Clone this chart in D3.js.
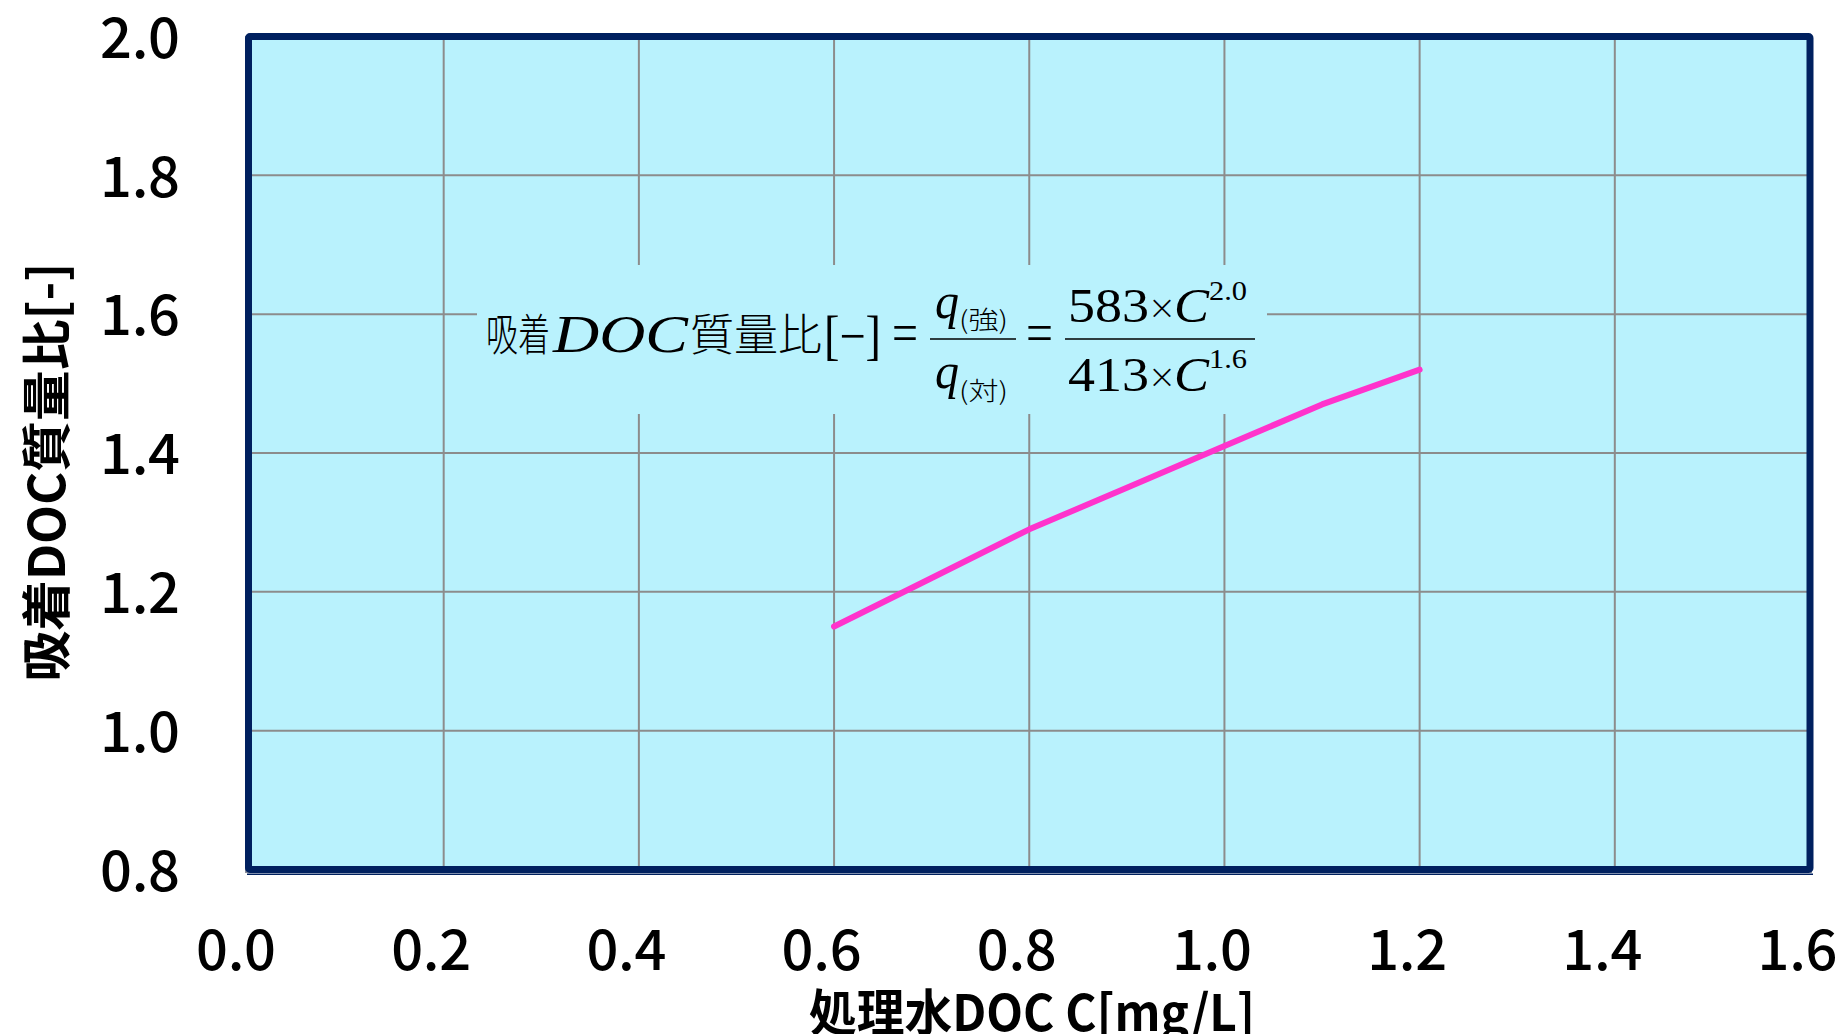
<!DOCTYPE html>
<html><head><meta charset="utf-8">
<script src="https://cdn.jsdelivr.net/npm/d3@7"></script>
<style>body{margin:0;background:#fff;}svg{display:block;}</style>
</head><body>
<svg id="chart" width="1845" height="1034"></svg>
<script>
// ---- data ----
const xValues = [0.6, 0.7, 0.8, 0.9, 1.0, 1.1, 1.2];
const yValues = [1.15, 1.22, 1.29, 1.35, 1.41, 1.47, 1.52];
const xTicks = [0.0, 0.2, 0.4, 0.6, 0.8, 1.0, 1.2, 1.4, 1.6];
const yTicks = [0.8, 1.0, 1.2, 1.4, 1.6, 1.8, 2.0];
const xTitle = "処理水DOC C[mg/L]";
const yTitle = "吸着DOC質量比[-]";

const svg = d3.select("#chart");
const L = 248.5, R = 1810, T = 36.5, B = 869.5;
const x = d3.scaleLinear().domain([0, 1.6]).range([L, R]);
const y = d3.scaleLinear().domain([0.8, 2.0]).range([B, T]);

const CJK = "'Noto Sans CJK JP','Noto Sans',sans-serif";
const SERIF = "'Liberation Serif','DejaVu Serif',serif";

// plot background
svg.append("rect").attr("x", L).attr("y", T).attr("width", R - L).attr("height", B - T)
  .attr("fill", "#B9F2FD");

// gridlines
const grid = svg.append("g");
grid.selectAll(".vg").data(xTicks.slice(1, -1)).enter().append("line")
  .attr("x1", d => x(d)).attr("x2", d => x(d)).attr("y1", T).attr("y2", B)
  .attr("stroke", "#8C8C8C").attr("stroke-width", 2);
grid.selectAll(".hg").data(yTicks.slice(1, -1)).enter().append("line")
  .attr("y1", d => y(d)).attr("y2", d => y(d)).attr("x1", L).attr("x2", R)
  .attr("stroke", "#8C8C8C").attr("stroke-width", 2);

// formula box (covers gridlines)
svg.append("rect").attr("x", 477).attr("y", 265).attr("width", 790).attr("height", 149)
  .attr("fill", "#B9F2FD");

// formula
const f = svg.append("g").attr("fill", "#000");
function t(txt, x0, x1, base, size, fam, opts) {
  const el = f.append("text").attr("x", x0).attr("y", base).attr("font-size", size)
    .attr("font-family", fam).text(txt)
    .attr("textLength", x1 - x0).attr("lengthAdjust", "spacingAndGlyphs");
  if (opts && opts.italic) el.attr("font-style", "italic");
  if (opts && opts.weight) el.attr("font-weight", opts.weight);
  return el;
}
function times(cx, cy) {
  f.append("text").attr("x", cx).attr("y", cy).attr("text-anchor", "middle")
    .attr("dominant-baseline", "central").attr("font-family", "'DejaVu Sans',sans-serif")
    .attr("font-size", 34).attr("font-weight", 300).text("×");
}
t("吸着", 486, 550, 351, 44, CJK, {weight: 300});
t("DOC", 553, 688, 352, 52, SERIF, {italic: true});
t("質量比", 690, 822, 351, 44, CJK, {weight: 300});
t("[−]", 824, 881, 354, 54, SERIF);
t("=", 892, 918, 352, 56, SERIF);
t("q", 935, 959, 318, 50, SERIF, {italic: true});
t("(強)", 959, 1008, 329, 25, CJK, {weight: 300});
f.append("line").attr("x1", 930).attr("x2", 1016).attr("y1", 339).attr("y2", 339)
  .attr("stroke", "#000").attr("stroke-width", 1.6);
t("q", 935, 959, 388, 50, SERIF, {italic: true});
t("(対)", 959, 1008, 400, 25, CJK, {weight: 300});
t("=", 1026, 1053, 352, 56, SERIF);
f.append("line").attr("x1", 1065).attr("x2", 1255).attr("y1", 339).attr("y2", 339)
  .attr("stroke", "#000").attr("stroke-width", 1.6);
t("583", 1068, 1149, 322, 48, SERIF);
times(1162, 307);
t("C", 1174, 1209, 322, 48, SERIF, {italic: true});
t("2.0", 1209, 1247, 300, 28, SERIF);
t("413", 1068, 1149, 391, 48, SERIF);
times(1162, 376);
t("C", 1174, 1209, 391, 48, SERIF, {italic: true});
t("1.6", 1209, 1247, 368, 28, SERIF);

// data line
const line = d3.line().x((d, i) => x(xValues[i])).y(d => y(d));
svg.append("path").datum(yValues).attr("d", line)
  .attr("fill", "none").attr("stroke", "#FF33CC").attr("stroke-width", 6)
  .attr("stroke-linecap", "round").attr("stroke-linejoin", "round");

// frame with shadow
svg.append("line").attr("x1", 245.8).attr("x2", 245.8).attr("y1", 36).attr("y2", 873)
  .attr("stroke", "#8A8F9C").attr("stroke-width", 1.6);
svg.append("line").attr("x1", 245).attr("x2", 1812).attr("y1", 872).attr("y2", 872)
  .attr("stroke", "#8A8F9C").attr("stroke-width", 2.2);
svg.append("line").attr("x1", 247).attr("x2", 1813).attr("y1", 874.2).attr("y2", 874.2)
  .attr("stroke", "#00205F").attr("stroke-width", 1.6);
svg.append("rect").attr("x", L).attr("y", T).attr("width", R - L).attr("height", B - T)
  .attr("fill", "none").attr("stroke", "#00205F").attr("stroke-width", 7)
  .attr("rx", 1.5);

// axes
const yAxis = d3.axisLeft(y).tickValues(yTicks).tickSize(0).tickPadding(68.5)
  .tickFormat(d3.format(".1f"));
const gy = svg.append("g").attr("transform", `translate(${L},0)`).call(yAxis);
gy.select(".domain").remove();
gy.selectAll("text").attr("font-family", CJK).attr("font-size", 56).attr("font-weight", 500)
  .attr("fill", "#000").attr("dy", "0.37em")
  .attr("textLength", 80).attr("lengthAdjust", "spacing");

const xAxis = d3.axisBottom(x).tickValues(xTicks).tickSize(0).tickPadding(61)
  .tickFormat(d3.format(".1f"));
const gx = svg.append("g").attr("transform", `translate(0,${B})`).call(xAxis);
gx.select(".domain").remove();
gx.selectAll("text").attr("font-family", CJK).attr("font-size", 56).attr("font-weight", 500)
  .attr("fill", "#000").attr("x", -13).attr("dy", "0.71em")
  .attr("textLength", 80).attr("lengthAdjust", "spacing");

// titles
svg.append("text").attr("x", 1032).attr("y", 1009).attr("text-anchor", "middle")
  .attr("dominant-baseline", "central")
  .attr("font-family", CJK).attr("font-size", 50).attr("font-weight", 700)
  .attr("textLength", 446).attr("lengthAdjust", "spacingAndGlyphs").text(xTitle);
svg.append("text").attr("transform", "translate(43,472) rotate(-90)")
  .attr("text-anchor", "middle").attr("dominant-baseline", "central")
  .attr("font-family", CJK).attr("font-size", 50).attr("font-weight", 700)
  .attr("textLength", 419).attr("lengthAdjust", "spacingAndGlyphs").text(yTitle);
</script>
</body></html>
